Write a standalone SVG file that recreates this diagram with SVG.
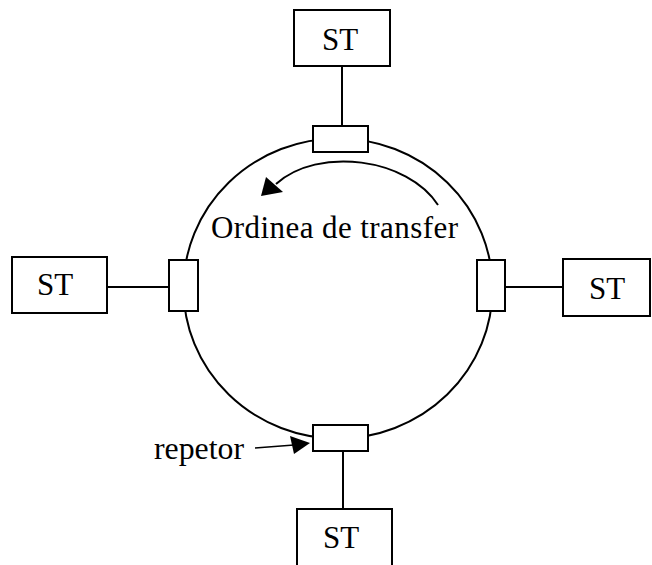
<svg xmlns="http://www.w3.org/2000/svg" width="652" height="565" viewBox="0 0 652 565">
  <style>
    .box { fill: #ffffff; stroke: #000000; stroke-width: 2; }
    .line { fill: none; stroke: #000000; stroke-width: 2; }
    .thin { fill: none; stroke: #000000; stroke-width: 1.5; }
    .head { fill: #000000; stroke: none; }
    .label { font-family: "Liberation Serif", "Times New Roman", serif; font-size: 31px; fill: #000000; }
    .st { text-anchor: middle; }
  </style>
  <rect width="652" height="565" fill="#ffffff"/>

  <!-- ring and station links -->
  <g id="connectors">
    <ellipse class="line" cx="338" cy="288.5" rx="154.5" ry="150"/>
    <line class="line" x1="342" y1="66" x2="342" y2="126"/>
    <line class="line" x1="107" y1="287" x2="169" y2="287"/>
    <line class="line" x1="505" y1="287" x2="563" y2="287"/>
    <line class="line" x1="343" y1="451" x2="343" y2="509"/>
    <!-- transfer direction -->
    <path class="line" d="M438,205 C408,158 318,146 276,184"/>
    <polygon class="head" points="261,196 266,177 283,192"/>
    <!-- repeater pointer -->
    <line class="thin" x1="255" y1="448" x2="294" y2="445"/>
    <polygon class="head" points="310,443 290,436 294,454"/>
  </g>

  <!-- repeaters on the ring -->
  <g id="rep-top"><rect class="box" x="313" y="126" width="55" height="26"/></g>
  <g id="rep-left"><rect class="box" x="169" y="260" width="29" height="51"/></g>
  <g id="rep-right"><rect class="box" x="477" y="260" width="28" height="51"/></g>
  <g id="rep-bottom"><rect class="box" x="313" y="425" width="55" height="26"/></g>

  <!-- stations -->
  <g id="st-top">
    <rect class="box" x="294" y="10" width="96" height="56"/>
    <text class="label st" x="340" y="50">ST</text>
  </g>
  <g id="st-left">
    <rect class="box" x="12" y="257" width="95" height="56"/>
    <text class="label st" x="55" y="295">ST</text>
  </g>
  <g id="st-right">
    <rect class="box" x="563" y="259" width="87" height="57"/>
    <text class="label st" x="607" y="299">ST</text>
  </g>
  <g id="st-bottom">
    <rect class="box" x="297" y="509" width="95" height="62"/>
    <text class="label st" x="341" y="548">ST</text>
  </g>

  <!-- labels -->
  <g id="labels">
    <text class="label" x="211" y="238" textLength="247" lengthAdjust="spacing">Ordinea de transfer</text>
    <text class="label" x="154" y="459" textLength="90" lengthAdjust="spacingAndGlyphs">repetor</text>
  </g>
</svg>
